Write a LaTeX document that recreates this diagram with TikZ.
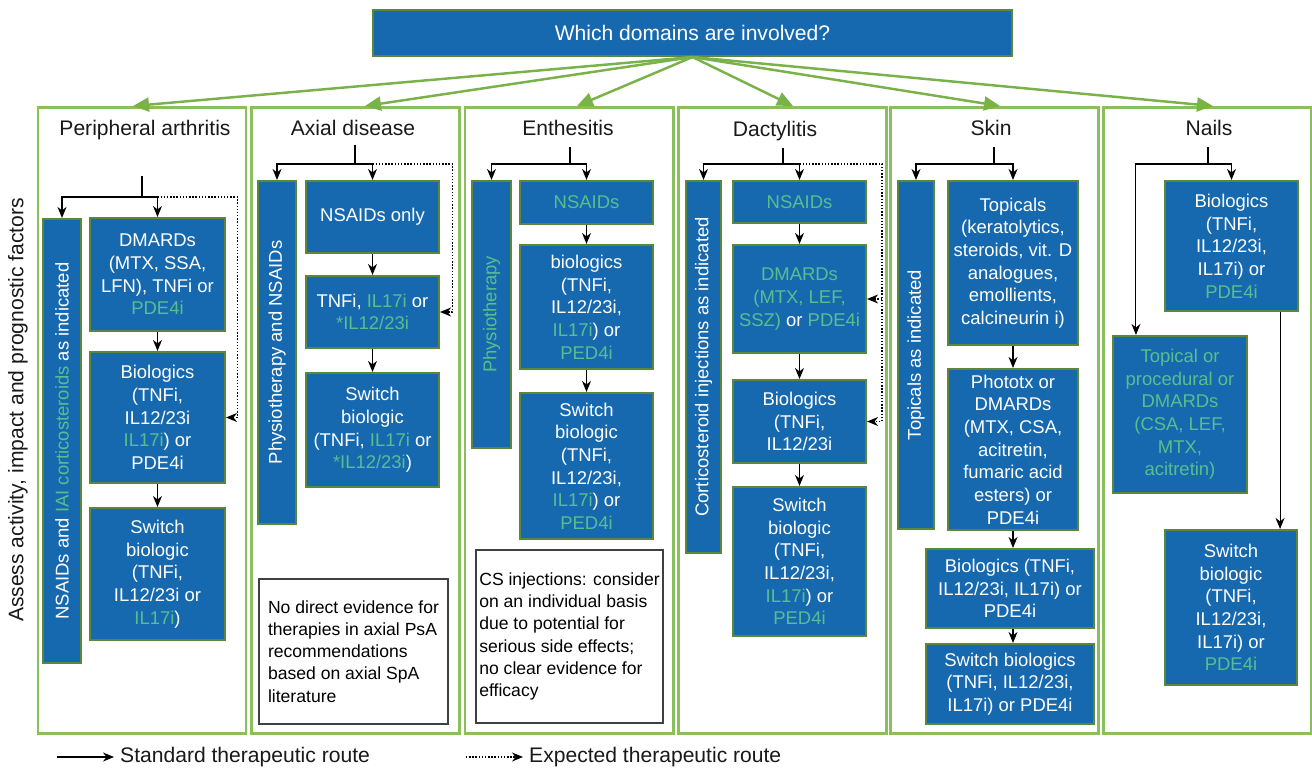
\documentclass[tikz,border=0pt]{standalone}
\usepackage{fontspec}
\setmainfont{Liberation Sans}
\usepackage{xcolor}
\usetikzlibrary{arrows.meta}

\definecolor{boxblue}{RGB}{23,105,175}
\definecolor{boxedge}{RGB}{90,135,60}
\definecolor{framegreen}{RGB}{137,191,92}
\definecolor{arrowgreen}{RGB}{122,178,74}
\definecolor{gtxt}{RGB}{88,190,144}
\newcommand{\gtx}[1]{\textcolor{gtxt}{#1}}

\begin{document}
\begin{tikzpicture}[
  x=0.2mm, y=-0.2mm,
  every node/.style={font=\fontsize{10.5}{12.9}\selectfont},
  blk/.style={draw=boxedge, line width=1.2pt, fill=boxblue, text=white, align=center, inner sep=0pt},
  bar/.style={blk, rotate=90},
  frame/.style={draw=framegreen, line width=1.7pt, minimum width=41.6mm, minimum height=125mm, inner sep=0pt},
  title/.style={font=\fontsize{12}{14}\selectfont, text=black!90},
  note/.style={draw=black!75, line width=0.7pt, align=left, inner sep=0pt, font=\fontsize{10}{12.6}\selectfont},
  link/.style={line width=0.6pt},
  arr/.style={link, -{Stealth[length=2.2mm,width=1.8mm,inset=0.7mm]}},
  dotarr/.style={arr, dash pattern=on 0.8pt off 1pt},
  garr/.style={arrowgreen, line width=1.4pt, -{Triangle[length=3.2mm,width=2.8mm]}}
]
  \useasboundingbox (0,0) rectangle (1312,769);

  % question and domain frames
  \node[blk, font=\fontsize{12}{14}\selectfont, minimum width=127.8mm, minimum height=9.2mm] (domains) at (692.5,33) {Which domains are involved?};
  \node[frame] (col1) at (142,420.5) {};
  \node[frame] (col2) at (355.5,420.5) {};
  \node[frame] (col3) at (569,420.5) {};
  \node[frame] (col4) at (782,420.5) {};
  \node[frame] (col5) at (994.5,420.5) {};
  \node[frame] (col6) at (1207,420.5) {};
  \coordinate (g1) at (133,106);
  \coordinate (g2) at (365,106);
  \coordinate (g3) at (577,106);
  \coordinate (g4) at (793,106);
  \coordinate (g5) at (1000,106);
  \coordinate (g6) at (1213,106);
  \draw[garr] (domains.south) -- (g1);
  \draw[garr] (domains.south) -- (g2);
  \draw[garr] (domains.south) -- (g3);
  \draw[garr] (domains.south) -- (g4);
  \draw[garr] (domains.south) -- (g5);
  \draw[garr] (domains.south) -- (g6);

  \node[title, rotate=90] (assess) at (18,410) {Assess activity, impact and prognostic factors};

  % peripheral arthritis
  \node[title] (t1) at (145,130) {Peripheral arthritis};
  \node[bar, minimum width=88.8mm, minimum height=7.6mm] (c1bar) at (62,441) {NSAIDs and \gtx{IAI corticosteroids} as indicated};
  \node[blk, minimum width=27mm, minimum height=22.6mm] (c1a) at (157.5,274.5) {DMARDs\\(MTX, SSA,\\LFN), TNFi or\\\gtx{PDE4i}};
  \node[blk, minimum width=27mm, minimum height=26.2mm] (c1b) at (157.5,417.5) {Biologics\\(TNFi,\\IL12/23i\\\gtx{IL17i}) or\\PDE4i};
  \node[blk, minimum width=27mm, minimum height=26.4mm] (c1c) at (157.5,574) {Switch\\biologic\\(TNFi,\\IL12/23i or\\\gtx{IL17i})};
  \coordinate (c1s) at (142,176);
  \draw[link] (c1s) -- ++(0,21) coordinate (c1j);
  \draw[arr] (c1j) -| (c1bar.east);
  \draw[arr] (c1j) -| (c1a.north);
  \draw[dotarr] (c1j -| c1a.north) -- ++(80,0) |- (c1b.east);
  \draw[arr] (c1a) -- (c1b);
  \draw[arr] (c1b) -- (c1c);

  % axial disease
  \node[title] (t2) at (353,128) {Axial disease};
  \node[bar, minimum width=68.6mm, minimum height=7.6mm] (c2bar) at (277,352.5) {Physiotherapy and NSAIDs};
  \node[blk, minimum width=26.6mm, minimum height=14.4mm] (c2a) at (372.5,217) {NSAIDs only};
  \node[blk, minimum width=26.6mm, minimum height=14.4mm] (c2b) at (372.5,312) {TNFi, \gtx{IL17i} or\\\gtx{*IL12/23i}};
  \node[blk, minimum width=26.6mm, minimum height=22.8mm] (c2c) at (372.5,430) {Switch\\biologic\\(TNFi, \gtx{IL17i} or\\\gtx{*IL12/23i})};
  \node[note, minimum width=37.8mm, minimum height=29mm] (c2n) at (353.5,651.5) {No direct evidence for\\therapies in axial PsA\\recommendations\\based on axial SpA\\literature};
  \coordinate (c2s) at (355,145);
  \draw[link] (c2s) -- ++(0,19) coordinate (c2j);
  \draw[arr] (c2j) -| (c2bar.east);
  \draw[arr] (c2j) -| (c2a.north);
  \draw[dotarr] (c2j -| c2a.north) -- ++(80,0) |- (c2b.east);
  \draw[arr] (c2a) -- (c2b);
  \draw[arr] (c2b) -- (c2c);

  % enthesitis
  \node[title] (t3) at (568,128) {Enthesitis};
  \node[bar, text=gtxt, minimum width=53.4mm, minimum height=7.8mm] (c3bar) at (491.5,314.5) {Physiotherapy};
  \node[blk, text=gtxt, minimum width=26.6mm, minimum height=8.6mm] (c3a) at (586.5,202.5) {NSAIDs};
  \node[blk, minimum width=26.6mm, minimum height=24.8mm] (c3b) at (586.5,307) {biologics\\(TNFi,\\IL12/23i,\\\gtx{IL17i}) or\\\gtx{PED4i}};
  \node[blk, minimum width=26.6mm, minimum height=29.2mm] (c3c) at (586.5,466) {Switch\\biologic\\(TNFi,\\IL12/23i,\\\gtx{IL17i}) or\\\gtx{PED4i}};
  \node[note, minimum width=37.4mm, minimum height=34.6mm] (c3n) at (569.5,636.5) {CS injections: consider\\on an individual basis\\due to potential for\\serious side effects;\\no clear evidence for\\efficacy};
  \coordinate (c3s) at (570,147);
  \draw[link] (c3s) -- ++(0,17) coordinate (c3j);
  \draw[arr] (c3j) -| (c3bar.east);
  \draw[arr] (c3j) -| (c3a.north);
  \draw[arr] (c3a) -- (c3b);
  \draw[arr] (c3b) -- (c3c);

  % dactylitis
  \node[title] (t4) at (775,131) {Dactylitis};
  \node[bar, minimum width=74.4mm, minimum height=7mm] (c4bar) at (703.5,367) {Corticosteroid injections as indicated};
  \node[blk, text=gtxt, minimum width=26.6mm, minimum height=8.4mm] (c4a) at (799.5,202) {NSAIDs};
  \node[blk, minimum width=26.6mm, minimum height=21.6mm] (c4b) at (799.5,299) {\gtx{DMARDs}\\\gtx{(MTX, LEF,}\\\gtx{SSZ)} or \gtx{PDE4i}};
  \node[blk, minimum width=26.6mm, minimum height=16.6mm] (c4c) at (799.5,421.5) {Biologics\\(TNFi,\\IL12/23i};
  \node[blk, minimum width=26.6mm, minimum height=29.8mm] (c4d) at (799.5,561.5) {Switch\\biologic\\(TNFi,\\IL12/23i,\\\gtx{IL17i}) or\\\gtx{PED4i}};
  \coordinate (c4s) at (783,148);
  \draw[link] (c4s) -- ++(0,16) coordinate (c4j);
  \draw[arr] (c4j) -| (c4bar.east);
  \draw[arr] (c4j) -| (c4a.north);
  \draw[dotarr] (c4j -| c4a.north) -- ++(82.5,0) coordinate (c4k) |- (c4c.east);
  \draw[dotarr] (c4k |- c4b.east) -- (c4b.east);
  \draw[arr] (c4a) -- (c4b);
  \draw[arr] (c4b) -- (c4c);
  \draw[arr] (c4c) -- (c4d);

  % skin
  \node[title] (t5) at (991,128) {Skin};
  \node[bar, minimum width=69.6mm, minimum height=7.2mm] (c5bar) at (916,355) {Topicals as indicated};
  \node[blk, minimum width=26mm, minimum height=32.8mm] (c5a) at (1013,263) {Topicals\\(keratolytics,\\steroids, vit. D\\analogues,\\emollients,\\calcineurin i)};
  \node[blk, minimum width=26mm, minimum height=32.2mm] (c5b) at (1013,449.5) {Phototx or\\DMARDs\\(MTX, CSA,\\acitretin,\\fumaric acid\\esters) or\\PDE4i};
  \node[blk, minimum width=33.6mm, minimum height=15.8mm] (c5c) at (1010,588.5) {Biologics (TNFi,\\IL12/23i, IL17i) or\\PDE4i};
  \node[blk, minimum width=33.6mm, minimum height=16mm] (c5d) at (1010,684) {Switch biologics\\(TNFi, IL12/23i,\\IL17i) or PDE4i};
  \coordinate (c5s) at (994,147);
  \draw[link] (c5s) -- ++(0,17) coordinate (c5j);
  \draw[arr] (c5j) -| (c5bar.east);
  \draw[arr] (c5j) -| (c5a.north);
  \draw[arr] (c5a) -- (c5b);
  \draw[arr] (c5b.south) -- (c5b.south |- c5c.north);
  \draw[arr] (c5b.south |- c5c.south) -- (c5b.south |- c5d.north);

  % nails
  \node[title] (t6) at (1209,128) {Nails};
  \node[blk, minimum width=26.6mm, minimum height=26mm] (c6a) at (1231.5,246) {Biologics\\(TNFi,\\IL12/23i,\\IL17i) or\\\gtx{PDE4i}};
  \node[blk, text=gtxt, minimum width=26.8mm, minimum height=31.4mm] (c6b) at (1180,414.5) {Topical or\\procedural or\\DMARDs\\(CSA, LEF,\\MTX,\\acitretin)};
  \node[blk, minimum width=26.4mm, minimum height=31mm] (c6c) at (1231,607.5) {Switch\\biologic\\(TNFi,\\IL12/23i,\\IL17i) or\\\gtx{PDE4i}};
  \coordinate (c6s) at (1208,147);
  \draw[link] (c6s) -- ++(0,17) coordinate (c6j);
  \draw[arr] (c6j) -| (c6a.north);
  \draw[arr] (c6j) -| ([xshift=4.8mm]c6b.north west);
  \coordinate (c6o) at ([xshift=-3.8mm]c6a.south east);
  \draw[arr] (c6o) -- (c6o |- c6c.north);

  % legend
  \coordinate (k1) at (57,757);
  \node[title, anchor=west] (std) at (114,757) {Standard therapeutic route};
  \draw[arr] (k1) -- (std.west);
  \coordinate (k2) at (466,757);
  \node[title, anchor=west] (exp) at (523,757) {Expected therapeutic route};
  \draw[dotarr] (k2) -- (exp.west);
\end{tikzpicture}
\end{document}
